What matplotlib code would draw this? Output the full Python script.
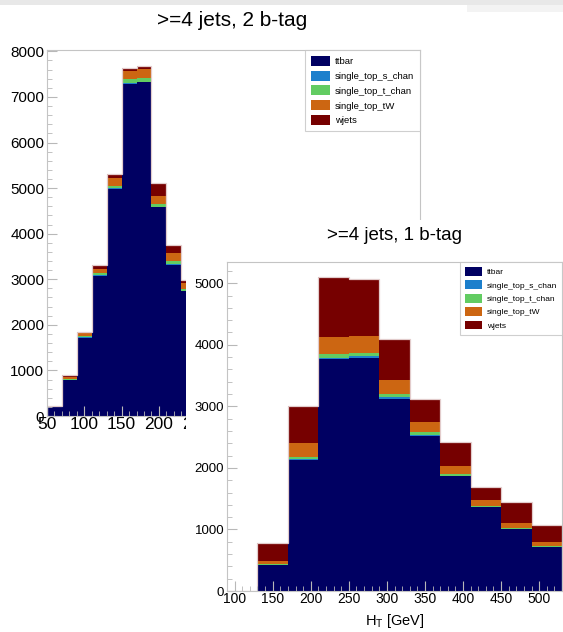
import numpy as np
import matplotlib
matplotlib.use("Agg")
import matplotlib.pyplot as plt
from matplotlib.patches import Rectangle, Patch
from matplotlib.ticker import MultipleLocator

plt.rcParams['font.family'] = ['Liberation Sans', 'DejaVu Sans']
plt.rcParams['mathtext.default'] = 'regular'

# --------------------------------------------------
# DATA (events per bin)
# --------------------------------------------------
samples = ["ttbar", "single_top_s_chan", "single_top_t_chan", "single_top_tW", "wjets"]
colors = ["#000062", "#1c7fcc", "#62cc62", "#cc6612", "#760000"]

# >=4 jets, 2 b-tag (only the bins left of the front canvas are visible)
edges_2b = [50, 70, 90, 110, 130, 150, 170, 190, 210, 230, 250]
ttbar_2b = [200, 790, 1720, 3075, 4985, 7295, 7320, 4575, 3316, 2740]
schan_2b = [2, 5, 8, 12, 15, 18, 18, 14, 10, 8]
tchan_2b = [5, 20, 28, 40, 40, 70, 78, 64, 70, 45]
tw_2b = [12, 48, 80, 100, 175, 195, 195, 175, 185, 130]
wjets_2b = [8, 28, 5, 95, 90, 50, 58, 280, 165, 65]

# >=4 jets, 1 b-tag
edges_1b = [90, 130, 170, 210, 250, 290, 330, 370, 410, 450, 490, 530]
ttbar_1b = [0, 418, 2136, 3761, 3793, 3125, 2522, 1864, 1359, 1000, 717]
schan_1b = [0, 5, 15, 25, 25, 20, 15, 10, 8, 6, 5]
tchan_1b = [0, 23, 23, 62, 52, 62, 45, 28, 19, 21, 17]
tw_1b = [0, 43, 228, 282, 271, 217, 163, 136, 92, 71, 49]
wjets_1b = [0, 288, 598, 968, 924, 663, 375, 375, 207, 342, 288]

W, H = 563, 632


def rect(l, t, r, b):
    # pixel box -> figure fraction
    return [l / W, 1 - b / H, (r - l) / W, (b - t) / H]


def draw_stack(ax, edges, comps):
    bottom = np.zeros(len(comps[0]))
    for vals, c in zip(comps, colors):
        top = bottom + np.array(vals)
        ax.stairs(top, edges, baseline=bottom, fill=True, color=c, lw=0)
        bottom = top
    ax.stairs(bottom, edges, color="#e2cccc", lw=0.9)


def style_axes(ax, xfs, yfs):
    for s in ax.spines.values():
        s.set_color("#c4c4c4")
        s.set_linewidth(0.8)
    ax.xaxis.set_major_locator(MultipleLocator(50))
    ax.xaxis.set_minor_locator(MultipleLocator(10))
    ax.yaxis.set_major_locator(MultipleLocator(1000))
    ax.yaxis.set_minor_locator(MultipleLocator(200))
    ax.tick_params(which="both", direction="in", color="#b8b8b8", top=False, right=False)
    ax.tick_params(which="major", length=7, width=0.8)
    ax.tick_params(which="minor", length=3.5, width=0.6)
    ax.tick_params(axis="x", labelsize=xfs, pad=1)
    ax.tick_params(axis="y", labelsize=yfs, pad=2)


def add_legend(ax, fs):
    handles = [Patch(facecolor=c, edgecolor="none") for c in colors]
    leg = ax.legend(handles, samples, loc="upper right", bbox_to_anchor=(1, 1),
                    fontsize=fs, frameon=True, fancybox=False, borderaxespad=0,
                    handlelength=2.1, handleheight=1.25, handletextpad=0.5,
                    labelspacing=0.5, borderpad=0.6)
    leg.get_frame().set_edgecolor("#c4c4c4")
    leg.get_frame().set_linewidth(0.8)
    leg.set_zorder(5)


fig = plt.figure(figsize=(W / 100, H / 100), dpi=100)

# browser strip at the top
fig.add_artist(Rectangle((0, 1 - 5 / H), 1, 5 / H, transform=fig.transFigure,
                         color="#e8e8e8", lw=0, zorder=0))
fig.add_artist(Rectangle((467 / W, 1 - 12 / H), 96 / W, 7 / H, transform=fig.transFigure,
                         color="#f3f3f3", lw=0, zorder=0))

# --------------------------------------------------
# BACK CANVAS: >=4 jets, 2 b-tag
# --------------------------------------------------
ax1 = fig.add_axes(rect(47, 50, 420, 416), zorder=0)
draw_stack(ax1, edges_2b, [ttbar_2b, schan_2b, tchan_2b, tw_2b, wjets_2b])
ax1.set_xlim(50, 550)
ax1.set_ylim(0, 8030)
style_axes(ax1, 12.5, 11)
add_legend(ax1, 6.8)
fig.text(232 / W, 1 - 20 / H, ">=4 jets, 2 b-tag", ha="center", va="center", fontsize=15)

# --------------------------------------------------
# FRONT CANVAS: >=4 jets, 1 b-tag
# --------------------------------------------------
fig.add_artist(Rectangle((186 / W, 0), (W - 186) / W, (H - 220) / H,
                         transform=fig.transFigure, color="white", lw=0, zorder=1))
ax2 = fig.add_axes(rect(227, 262, 562, 591), zorder=2)
draw_stack(ax2, edges_1b, [ttbar_1b, schan_1b, tchan_1b, tw_1b, wjets_1b])
ax2.set_xlim(90, 530)
ax2.set_ylim(0, 5345)
style_axes(ax2, 10, 9.5)
add_legend(ax2, 6.0)
ax2.set_xlabel("H$_T$ [GeV]", fontsize=10.5, labelpad=4)
t2 = fig.text(394.5 / W, 1 - 235 / H, ">=4 jets, 1 b-tag", ha="center", va="center",
              fontsize=13.5)
t2.set_zorder(3)

fig.savefig("out.png", dpi=100)
